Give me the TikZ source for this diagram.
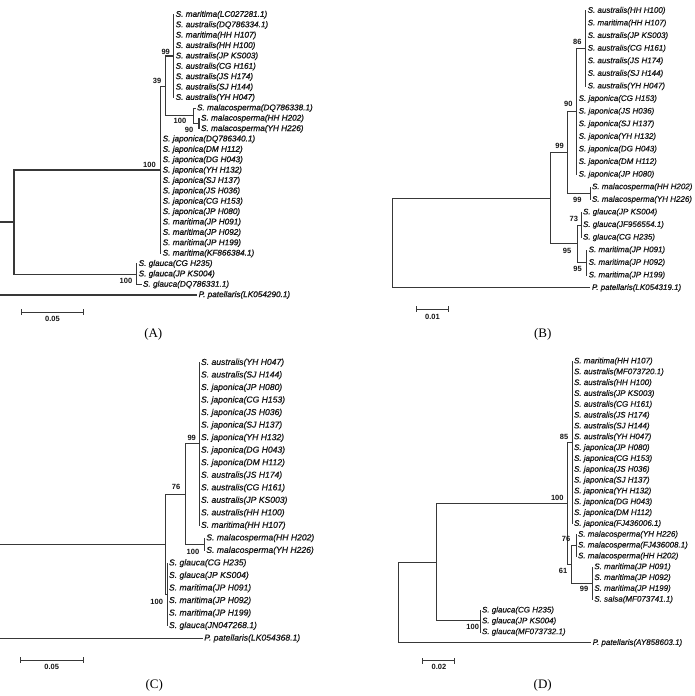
\documentclass[tikz,border=0pt]{standalone}
\usepackage{fontspec}
\setmainfont{Liberation Serif}
\newfontfamily\arialf{Liberation Sans}
\newfontfamily\labelf[FakeBold=0.45]{Liberation Sans Italic}
\newfontfamily\labelfA[FakeBold=1.0]{Liberation Sans Italic}
\definecolor{linec}{HTML}{383838}
\definecolor{txtc}{HTML}{161616}
\newcommand\leaffont{\labelf\fontsize{8}{9}\selectfont}
\newcommand\leaffontA{\labelfA\fontsize{8.2}{9}\selectfont}
\newcommand\leaffontC{\labelf\fontsize{8.6}{10}\selectfont}
\newcommand\bsfont{\arialf\bfseries\fontsize{7.5}{9}\selectfont}
\newcommand\capfont{\rmfamily\fontsize{13}{15}\selectfont}
\tikzset{
  br/.style={draw=linec, line width=0.95pt, line cap=rect},
  brA/.style={br, line width=1.15pt},
  leaf/.style={anchor=west, inner xsep=1.8pt, inner ysep=0pt, font=\leaffont, text=txtc},
  leafA/.style={leaf, font=\leaffontA},
  leafC/.style={leaf, font=\leaffontC},
  bs/.style={font=\bsfont, text=txtc, inner sep=0pt},
  captxt/.style={font=\capfont, text=black, inner sep=0pt},
}
\begin{document}
\begin{tikzpicture}[x=1pt,y=-1pt]
\useasboundingbox (0,0) rectangle (694,696);
\fill[white] (0,0) rectangle (694,696);

%================ PANEL A ================
\coordinate (A0) at (0,222);
\coordinate (rA) at (14,222);
\coordinate (nA100) at (160.7,170);
\coordinate (nA39) at (165.7,86.3);
\coordinate (nA99) at (173.7,56);
\coordinate (nAmal) at (193.3,115.7);
\coordinate (nAmal2) at (199,123.3);
\coordinate (nAgl) at (136.7,274.3);
\draw[brA] (A0) -- (rA);
\draw[brA] (rA) |- (nA100);
\draw[brA] (rA) |- (nAgl);
\draw[brA] (nA100) |- (nA39);
\draw[brA] (nA39) |- (nA99);
\draw[brA] (nA39) |- (nAmal);
\draw[brA] (nAmal) |- (nAmal2);
\foreach \i/\t in {1/{S. maritima(LC027281.1)},2/{S. australis(DQ786334.1)},3/{S. maritima(HH H107)},4/{S. australis(HH H100)},5/{S. australis(JP KS003)},6/{S. australis(CG H161)},7/{S. australis(JS H174)},8/{S. australis(SJ H144)},9/{S. australis(YH H047)}}{
  \coordinate (a\i) at (173.7,{14.7+(\i-1)*10.38});
  \node[leafA] (la\i) at (a\i) {\t};
  \draw[brA] (nA99) |- (a\i);
}
\coordinate (a10) at (195,{14.7+9*10.38});
\node[leafA] (la10) at (a10) {S. malacosperma(DQ786338.1)};
\draw[brA] (nAmal) |- (a10);
\foreach \i/\t in {11/{S. malacosperma(HH H202)},12/{S. malacosperma(YH H226)}}{
  \coordinate (a\i) at (199,{14.7+(\i-1)*10.38});
  \node[leafA] (la\i) at (a\i) {\t};
  \draw[brA] (nAmal2) |- (a\i);
}
\foreach \i/\t in {13/{S. japonica(DQ786340.1)},14/{S. japonica(DM H112)},15/{S. japonica(DG H043)},16/{S. japonica(YH H132)},17/{S. japonica(SJ H137)},18/{S. japonica(JS H036)},19/{S. japonica(CG H153)},20/{S. japonica(JP H080)},21/{S. maritima(JP H091)},22/{S. maritima(JP H092)},23/{S. maritima(JP H199)},24/{S. maritima(KF866384.1)}}{
  \coordinate (a\i) at (160.7,{14.7+(\i-1)*10.38});
  \node[leafA] (la\i) at (a\i) {\t};
  \draw[brA] (nA100) |- (a\i);
}
\foreach \i/\t in {25/{S. glauca(CG H235)},26/{S. glauca(JP KS004)}}{
  \coordinate (a\i) at (136.7,{14.7+(\i-1)*10.38});
  \node[leafA] (la\i) at (a\i) {\t};
  \draw[brA] (nAgl) |- (a\i);
}
\coordinate (a27) at (141,{14.7+26*10.38});
\node[leafA] (la27) at (a27) {S. glauca(DQ786331.1)};
\draw[brA] (nAgl) |- (a27);
\coordinate (Aog0) at (0,295);
\coordinate (a28) at (196.7,295);
\node[leafA] (la28) at (a28) {P. patellaris(LK054290.1)};
\draw[brA] (Aog0) -- (a28);
\node[bs] (bA99) at (165.7,51.7) {99};
\node[bs] (bA39) at (157,81) {39};
\node[bs] (bA100) at (149.5,165) {100};
\node[bs] (bAm100) at (180,121) {100};
\node[bs] (bAm90) at (189,130) {90};
\node[bs] (bAg100) at (126,280.5) {100};
\coordinate (sA1) at (21.7,312.3);
\coordinate (sA2) at (83.3,312.3);
\draw[brA] (sA1) -- (sA2);
\draw[brA] ([yshift=2.5pt]sA1) -- ([yshift=-2.5pt]sA1);
\draw[brA] ([yshift=2.5pt]sA2) -- ([yshift=-2.5pt]sA2);
\node[bs] (sAl) at (52.5,318.5) {0.05};
\node[captxt] (capA) at (153.3,334) {(A)};

%================ PANEL B ================
\coordinate (rB) at (392.3,243);
\coordinate (nB1) at (550,198.3);
\coordinate (nB99) at (567.3,152.3);
\coordinate (nB90) at (576.7,111.5);
\coordinate (nB86) at (585.7,48.2);
\coordinate (nBmal) at (590,193);
\coordinate (nB95) at (577.3,243.8);
\coordinate (nB73) at (581,225);
\coordinate (nBmar) at (586.7,262.7);
\draw[br] (rB) |- (nB1);
\draw[br] (nB1) |- (nB99);
\draw[br] (nB1) |- (nB95);
\draw[br] (nB99) |- (nB90);
\draw[br] (nB99) |- (nBmal);
\draw[br] (nB90) |- (nB86);
\draw[br] (nB95) |- (nB73);
\draw[br] (nB95) |- (nBmar);
\foreach \i/\t in {1/{S. australis(HH H100)},2/{S. maritima(HH H107)},3/{S. australis(JP KS003)},4/{S. australis(CG H161)},5/{S. australis(JS H174)},6/{S. australis(SJ H144)},7/{S. australis(YH H047)}}{
  \coordinate (b\i) at (585.7,{10.7+(\i-1)*12.6});
  \node[leaf] (lb\i) at (b\i) {\t};
  \draw[br] (nB86) |- (b\i);
}
\foreach \i/\t in {8/{S. japonica(CG H153)},9/{S. japonica(JS H036)},10/{S. japonica(SJ H137)},11/{S. japonica(YH H132)},12/{S. japonica(DG H043)},13/{S. japonica(DM H112)},14/{S. japonica(JP H080)}}{
  \coordinate (b\i) at (576.7,{10.7+(\i-1)*12.6});
  \node[leaf] (lb\i) at (b\i) {\t};
  \draw[br] (nB90) |- (b\i);
}
\foreach \i/\t in {15/{S. malacosperma(HH H202)},16/{S. malacosperma(YH H226)}}{
  \coordinate (b\i) at (590,{10.7+(\i-1)*12.6});
  \node[leaf] (lb\i) at (b\i) {\t};
  \draw[br] (nBmal) |- (b\i);
}
\foreach \i/\t in {17/{S. glauca(JP KS004)},18/{S. glauca(JF956554.1)},19/{S. glauca(CG H235)}}{
  \coordinate (b\i) at (581,{10.7+(\i-1)*12.6});
  \node[leaf] (lb\i) at (b\i) {\t};
  \draw[br] (nB73) |- (b\i);
}
\foreach \i/\t in {20/{S. maritima(JP H091)},21/{S. maritima(JP H092)},22/{S. maritima(JP H199)}}{
  \coordinate (b\i) at (586.7,{10.7+(\i-1)*12.6});
  \node[leaf] (lb\i) at (b\i) {\t};
  \draw[br] (nBmar) |- (b\i);
}
\coordinate (b23) at (590,{10.7+22*12.6});
\node[leaf] (lb23) at (b23) {P. patellaris(LK054319.1)};
\draw[br] (rB) |- (b23);
\node[bs] (bB86) at (577.3,42.3) {86};
\node[bs] (bB90) at (568.3,104.3) {90};
\node[bs] (bB99) at (559.5,145.7) {99};
\node[bs] (bBm99) at (577.3,200.3) {99};
\node[bs] (bB73) at (573.8,219) {73};
\node[bs] (bB95) at (567,251.3) {95};
\node[bs] (bBr95) at (577.5,269.3) {95};
\coordinate (sB1) at (416.7,309);
\coordinate (sB2) at (448.3,309);
\draw[br] (sB1) -- (sB2);
\draw[br] ([yshift=2.5pt]sB1) -- ([yshift=-2.5pt]sB1);
\draw[br] ([yshift=2.5pt]sB2) -- ([yshift=-2.5pt]sB2);
\node[bs] (sBl) at (432.5,316.7) {0.01};
\node[captxt] (capB) at (542.7,334) {(B)};

%================ PANEL C ================
\coordinate (C0) at (0,544.5);
\coordinate (rC) at (165,544.5);
\coordinate (nC76) at (185,494.7);
\coordinate (nC99) at (199,443.8);
\coordinate (nCmal) at (204.3,544.3);
\coordinate (nCgl) at (167,594.5);
\draw[br] (C0) -- (rC);
\draw[br] (rC) |- (nC76);
\draw[br] (rC) |- (nCgl);
\draw[br] (nC76) |- (nC99);
\draw[br] (nC76) |- (nCmal);
\foreach \i/\t in {1/{S. australis(YH H047)},2/{S. australis(SJ H144)},3/{S. japonica(JP H080)},4/{S. japonica(CG H153)},5/{S. japonica(JS H036)},6/{S. japonica(SJ H137)},7/{S. japonica(YH H132)},8/{S. japonica(DG H043)},9/{S. japonica(DM H112)},10/{S. australis(JS H174)},11/{S. australis(CG H161)},12/{S. australis(JP KS003)},13/{S. australis(HH H100)},14/{S. maritima(HH H107)}}{
  \coordinate (c\i) at (199,{362.7+(\i-1)*12.53});
  \node[leafC] (lc\i) at (c\i) {\t};
  \draw[br] (nC99) |- (c\i);
}
\foreach \i/\t in {15/{S. malacosperma(HH H202)},16/{S. malacosperma(YH H226)}}{
  \coordinate (c\i) at (204.3,{362.7+(\i-1)*12.53});
  \node[leafC] (lc\i) at (c\i) {\t};
  \draw[br] (nCmal) |- (c\i);
}
\foreach \i/\t in {17/{S. glauca(CG H235)},18/{S. glauca(JP KS004)},19/{S. maritima(JP H091)},20/{S. maritima(JP H092)},21/{S. maritima(JP H199)},22/{S. glauca(JN047268.1)}}{
  \coordinate (c\i) at (167,{362.7+(\i-1)*12.53});
  \node[leafC] (lc\i) at (c\i) {\t};
  \draw[br] (nCgl) |- (c\i);
}
\coordinate (Cog0) at (0,{362.7+22*12.53});
\coordinate (c23) at (202.3,{362.7+22*12.53});
\node[leafC] (lc23) at (c23) {P. patellaris(LK054368.1)};
\draw[br] (Cog0) -- (c23);
\node[bs] (bC99) at (191.7,437.7) {99};
\node[bs] (bC76) at (176,487.3) {76};
\node[bs] (bCm100) at (193,551.7) {100};
\node[bs] (bCg100) at (156.7,601.7) {100};
\coordinate (sC1) at (20,660);
\coordinate (sC2) at (83.3,660);
\draw[br] (sC1) -- (sC2);
\draw[br] ([yshift=2.5pt]sC1) -- ([yshift=-2.5pt]sC1);
\draw[br] ([yshift=2.5pt]sC2) -- ([yshift=-2.5pt]sC2);
\node[bs] (sCl) at (51.7,667) {0.05};
\node[captxt] (capC) at (154.3,685) {(C)};

%================ PANEL D ================
\coordinate (rD) at (398.3,602.7);
\coordinate (nD1) at (436,562.3);
\coordinate (nD100) at (567.3,503.2);
\coordinate (nD85) at (572,442.3);
\coordinate (nD61) at (571,564.1);
\coordinate (nD76) at (576,545.2);
\coordinate (nD99) at (592.3,583);
\coordinate (nDgl) at (480,620.8);
\draw[br] (rD) |- (nD1);
\draw[br] (nD1) |- (nD100);
\draw[br] (nD1) |- (nDgl);
\draw[br] (nD100) |- (nD85);
\draw[br] (nD100) |- (nD61);
\draw[br] (nD61) |- (nD76);
\draw[br] (nD61) |- (nD99);
\foreach \i/\t in {1/{S. maritima(HH H107)},2/{S. australis(MF073720.1)},3/{S. australis(HH H100)},4/{S. australis(JP KS003)},5/{S. australis(CG H161)},6/{S. australis(JS H174)},7/{S. australis(SJ H144)},8/{S. australis(YH H047)},9/{S. japonica(JP H080)},10/{S. japonica(CG H153)},11/{S. japonica(JS H036)},12/{S. japonica(SJ H137)},13/{S. japonica(YH H132)},14/{S. japonica(DG H043)},15/{S. japonica(DM H112)},16/{S. japonica(FJ436006.1)}}{
  \coordinate (d\i) at (572,{361.3+(\i-1)*10.83});
  \node[leaf] (ld\i) at (d\i) {\t};
  \draw[br] (nD85) |- (d\i);
}
\foreach \i/\t in {17/{S. malacosperma(YH H226)},18/{S. malacosperma(FJ436008.1)},19/{S. malacosperma(HH H202)}}{
  \coordinate (d\i) at (576,{361.3+(\i-1)*10.83});
  \node[leaf] (ld\i) at (d\i) {\t};
  \draw[br] (nD76) |- (d\i);
}
\foreach \i/\t in {20/{S. maritima(JP H091)},21/{S. maritima(JP H092)},22/{S. maritima(JP H199)},23/{S. salsa(MF073741.1)}}{
  \coordinate (d\i) at (592.3,{361.3+(\i-1)*10.83});
  \node[leaf] (ld\i) at (d\i) {\t};
  \draw[br] (nD99) |- (d\i);
}
\foreach \i/\t in {24/{S. glauca(CG H235)},25/{S. glauca(JP KS004)},26/{S. glauca(MF073732.1)}}{
  \coordinate (d\i) at (480,{361.3+(\i-1)*10.83});
  \node[leaf] (ld\i) at (d\i) {\t};
  \draw[br] (nDgl) |- (d\i);
}
\coordinate (d27) at (590.7,{361.3+26*10.83});
\node[leaf] (ld27) at (d27) {P. patellaris(AY858603.1)};
\draw[br] (rD) |- (d27);
\node[bs] (bD85) at (564,437) {85};
\node[bs] (bD100) at (557.3,497.7) {100};
\node[bs] (bD76) at (566,539.3) {76};
\node[bs] (bD61) at (563,570.5) {61};
\node[bs] (bD99) at (584,589) {99};
\node[bs] (bDg100) at (472.7,627.3) {100};
\coordinate (sD1) at (422.3,660.7);
\coordinate (sD2) at (454.3,660.7);
\draw[br] (sD1) -- (sD2);
\draw[br] ([yshift=2.5pt]sD1) -- ([yshift=-2.5pt]sD1);
\draw[br] ([yshift=2.5pt]sD2) -- ([yshift=-2.5pt]sD2);
\node[bs] (sDl) at (439,667) {0.02};
\node[captxt] (capD) at (542.7,685) {(D)};
\end{tikzpicture}
\end{document}
